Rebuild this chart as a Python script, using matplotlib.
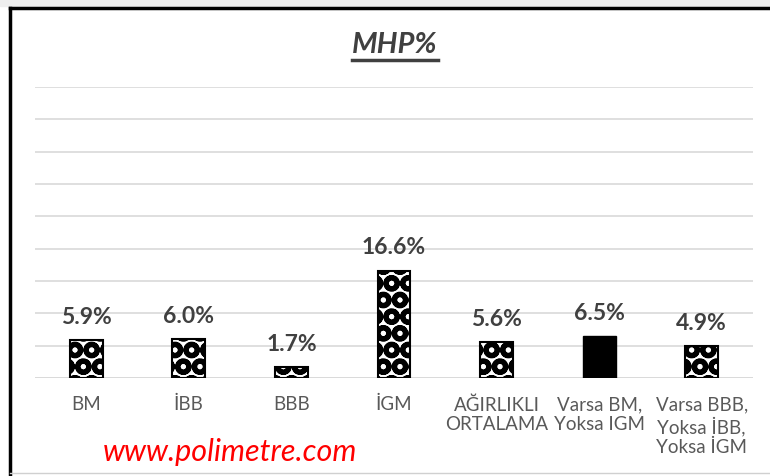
import matplotlib
matplotlib.use("Agg")
import matplotlib.pyplot as plt
from matplotlib.lines import Line2D
from matplotlib.patches import Rectangle

categories = ["BM", "İBB", "BBB", "İGM", "AĞIRLIKLI\nORTALAMA",
              "Varsa BM,\nYoksa IGM", "Varsa BBB,\nYoksa İBB,\nYoksa İGM"]
values = [5.9, 6.0, 1.7, 16.6, 5.6, 6.5, 4.9]
solid = [False, False, False, False, False, True, False]
title = "MHP%"
watermark = "www.polimetre.com"

plt.rcParams['font.family'] = ['Lato', 'DejaVu Sans']
plt.rcParams['hatch.linewidth'] = 3.6
plt.rcParams['hatch.color'] = '#3a3a3a'

fig = plt.figure(figsize=(7.7, 4.76), dpi=100)
ax = fig.add_axes([35 / 770, 1 - 378 / 476, (753 - 35) / 770, (378 - 87) / 476])

x = range(len(values))
for i, v in enumerate(values):
    if solid[i]:
        ax.bar(i, v, width=0.32, color='black', edgecolor='black', zorder=3)
    else:
        ax.bar(i, v, width=0.32, color='white', edgecolor='black',
               hatch='O', linewidth=1.5, zorder=3)
    ax.text(i, v + 1.9, f"{v:.1f}%", ha='center', va='bottom',
            fontsize=16.5, fontweight='bold', color='#404040')

ax.set_xlim(-0.5, len(values) - 0.5)
ax.set_ylim(0, 45)
ax.set_yticks(range(0, 46, 5))
ax.set_yticklabels([])
ax.tick_params(axis='y', length=0)
ax.grid(axis='y', color='#d9d9d9', linewidth=1.2, zorder=0)
ax.set_xticks(list(x))
ax.set_xticklabels(categories, fontsize=13.5, color='#595959', linespacing=1.2, va='top')
ax.tick_params(axis='x', length=0, pad=13)
for s in ax.spines.values():
    s.set_visible(False)
ax.axhline(0, color='#d9d9d9', linewidth=1.2, zorder=1)

# title with underline
t = fig.text(395 / 770, 1 - 45 / 476, title, ha='center', va='center', fontsize=21,
             fontweight='bold', fontstyle='italic', color='#404040')
fig.canvas.draw()
bb = t.get_window_extent(fig.canvas.get_renderer())
uy = bb.y0 - 2
fig.add_artist(Line2D([bb.x0 / 770, bb.x1 / 770], [uy / 476, uy / 476],
                      transform=fig.transFigure, color='#404040', linewidth=2.5))

fig.text(230 / 770, 1 - 452 / 476, watermark, ha='center', va='center', fontsize=22,
         fontstyle='italic', color='#ff0000')

# sheet frame
fig.patches.append(Rectangle((0, 1 - 6 / 476), 1, 6 / 476, transform=fig.transFigure,
                             color='#eeeeee', zorder=0))
fig.add_artist(Line2D([10 / 770, 1], [1 - 8 / 476, 1 - 8 / 476], transform=fig.transFigure,
                      color='black', linewidth=2.5))
fig.add_artist(Line2D([10 / 770, 10 / 770], [0, 1 - 8 / 476], transform=fig.transFigure,
                      color='black', linewidth=2.5))
fig.add_artist(Line2D([10 / 770, 1], [3 / 476, 3 / 476], transform=fig.transFigure,
                      color='#d0d0d0', linewidth=1))

fig.savefig("out.png", dpi=100)
